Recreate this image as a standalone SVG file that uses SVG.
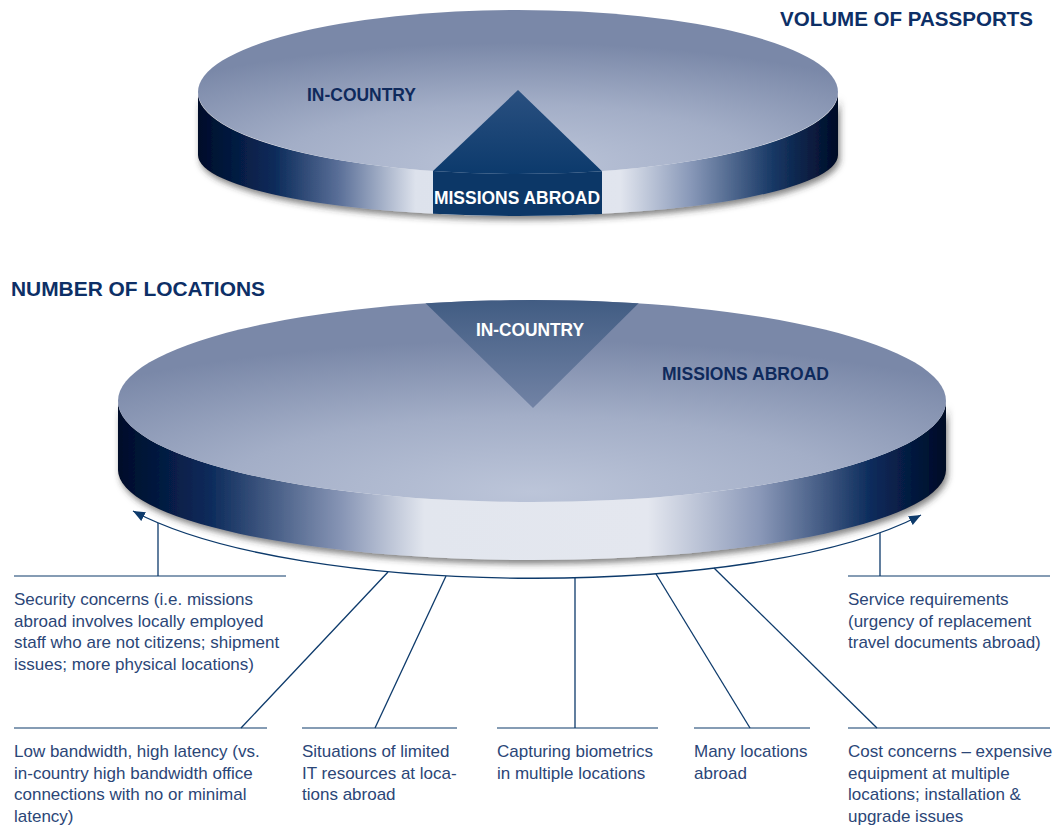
<svg xmlns="http://www.w3.org/2000/svg" width="1064" height="825" viewBox="0 0 1064 825">
<style>
.title{font-family:"Liberation Sans",Arial,sans-serif;font-weight:bold;font-size:21px;fill:#0d2f66}
.lbl{font-family:"Liberation Sans",Arial,sans-serif;font-weight:bold;font-size:19px}
.dark{fill:#0f2a5c}
.white{fill:#ffffff}
.body{font-family:"Liberation Sans",Arial,sans-serif;font-size:17px;fill:#2b4677}
.rule{stroke:#0d3a6b;stroke-width:1.2;fill:none}
.conn{stroke:#0d3a6b;stroke-width:1.3;fill:none}
</style>
<defs>
<radialGradient id="topface" cx="50%" cy="95%" r="75%" fx="50%" fy="95%">
<stop offset="0" stop-color="#bcc5d9"/>
<stop offset="0.5" stop-color="#a3aec7"/>
<stop offset="1" stop-color="#7a88a8"/>
</radialGradient>
<linearGradient id="side1" x1="198" y1="0" x2="838" y2="0" gradientUnits="userSpaceOnUse">
<stop offset="0" stop-color="#000c2a"/>
<stop offset="0.12" stop-color="#0b2b5a"/>
<stop offset="0.22" stop-color="#5a6f98"/>
<stop offset="0.34" stop-color="#dde2ec"/>
<stop offset="0.66" stop-color="#e1e5ee"/>
<stop offset="0.77" stop-color="#8898b8"/>
<stop offset="0.9" stop-color="#163764"/>
<stop offset="1" stop-color="#000a26"/>
</linearGradient>
<linearGradient id="side2" x1="118" y1="0" x2="946" y2="0" gradientUnits="userSpaceOnUse">
<stop offset="0" stop-color="#000c2a"/>
<stop offset="0.11" stop-color="#0b2a5a"/>
<stop offset="0.27" stop-color="#8795b5"/>
<stop offset="0.37" stop-color="#e2e6ee"/>
<stop offset="0.64" stop-color="#e4e7ef"/>
<stop offset="0.775" stop-color="#8a98b8"/>
<stop offset="0.91" stop-color="#0b2b5b"/>
<stop offset="1" stop-color="#000a26"/>
</linearGradient>
<linearGradient id="wedgeTop" x1="0" y1="0" x2="0" y2="1">
<stop offset="0" stop-color="#2a5080"/>
<stop offset="1" stop-color="#0c3a6c"/>
</linearGradient>
<linearGradient id="tri" x1="0" y1="0" x2="0" y2="1">
<stop offset="0" stop-color="#3c587f"/>
<stop offset="1" stop-color="#7283a5"/>
</linearGradient>
<clipPath id="clip2"><ellipse cx="532" cy="401" rx="414" ry="101"/></clipPath>
<filter id="shadow" x="-5%" y="-20%" width="110%" height="150%">
<feDropShadow dx="2" dy="4" stdDeviation="3" flood-color="#333333" flood-opacity="0.6"/>
</filter>
<marker id="arr" viewBox="0 0 12 10" refX="12" refY="5" markerWidth="12" markerHeight="10" markerUnits="userSpaceOnUse" orient="auto-start-reverse">
<path d="M0,0 L12,5 L0,10 z" fill="#0d3a6b"/>
</marker>
</defs>
<rect width="1064" height="825" fill="#ffffff"/>

<text class="title" x="780" y="26" textLength="253" lengthAdjust="spacingAndGlyphs">VOLUME OF PASSPORTS</text>
<text class="title" x="11" y="296" textLength="254" lengthAdjust="spacingAndGlyphs">NUMBER OF LOCATIONS</text>

<g id="pie-passports">
<path d="M198,93 L198,155 A320,61 0 0 0 838,155 L838,93 A320,81 0 0 1 198,93 Z" fill="url(#side1)" filter="url(#shadow)"/>
<ellipse cx="518" cy="92" rx="320" ry="82" fill="url(#topface)"/>
<g id="slice-missions-abroad-volume">
<path d="M433,171.1 L433,213.8 A320,61 0 0 0 602,213.9 L602,171.2 A320,81 0 0 1 433,171.1 Z" fill="#0c3767"/>
<path d="M518,90 L433,171.1 A320,81 0 0 0 602,171.2 Z" fill="url(#wedgeTop)"/>
<text class="lbl white" x="434" y="204" font-size="18" textLength="166" lengthAdjust="spacingAndGlyphs">MISSIONS ABROAD</text>
</g>
<text class="lbl dark" x="307" y="101" textLength="109" lengthAdjust="spacingAndGlyphs">IN-COUNTRY</text>
</g>

<g id="pie-locations">
<path d="M118,401 L118,470 A414,90 0 0 0 946,470 L946,401 A414,101 0 0 1 118,401 Z" fill="url(#side2)" filter="url(#shadow)"/>
<ellipse cx="532" cy="401" rx="414" ry="101" fill="url(#topface)"/>
<g id="slice-in-country-locations">
<polygon points="533,408 411,289 653,289" fill="url(#tri)" clip-path="url(#clip2)"/>
<text class="lbl white" x="476" y="336" textLength="108" lengthAdjust="spacingAndGlyphs">IN-COUNTRY</text>
</g>
<text class="lbl dark" x="662" y="380" textLength="167" lengthAdjust="spacingAndGlyphs">MISSIONS ABROAD</text>
</g>

<g id="connectors">
<path class="conn" d="M133,511 C300,600 760,600 921,515" marker-start="url(#arr)" marker-end="url(#arr)"/>
<line class="conn" x1="158" y1="523" x2="158" y2="576"/>
<line class="conn" x1="880" y1="533" x2="880" y2="576"/>
<line class="conn" x1="388" y1="572" x2="241" y2="728"/>
<line class="conn" x1="446" y1="576" x2="375" y2="728"/>
<line class="conn" x1="575" y1="578" x2="575" y2="728"/>
<line class="conn" x1="656" y1="574" x2="750" y2="728"/>
<line class="conn" x1="714" y1="568" x2="877" y2="728"/>
</g>

<g id="note-security">
<line class="rule" x1="14" y1="576" x2="286" y2="576"/>
<text class="body" x="14" y="605">Security concerns (i.e. missions</text>
<text class="body" x="14" y="626.5">abroad involves locally employed</text>
<text class="body" x="14" y="648">staff who are not citizens; shipment</text>
<text class="body" x="14" y="669.5">issues; more physical locations)</text>
</g>
<g id="note-service">
<line class="rule" x1="848" y1="576" x2="1050" y2="576"/>
<text class="body" x="848" y="605">Service requirements</text>
<text class="body" x="848" y="626.5">(urgency of replacement</text>
<text class="body" x="848" y="648">travel documents abroad)</text>
</g>
<g id="note-bandwidth">
<line class="rule" x1="14" y1="728" x2="267" y2="728"/>
<text class="body" x="14" y="757">Low bandwidth, high latency (vs.</text>
<text class="body" x="14" y="778.5">in-country high bandwidth office</text>
<text class="body" x="14" y="800">connections with no or minimal</text>
<text class="body" x="14" y="821.5">latency)</text>
</g>
<g id="note-it">
<line class="rule" x1="302" y1="728" x2="457" y2="728"/>
<text class="body" x="302" y="757">Situations of limited</text>
<text class="body" x="302" y="778.5">IT resources at loca-</text>
<text class="body" x="302" y="800">tions abroad</text>
</g>
<g id="note-biometrics">
<line class="rule" x1="497" y1="728" x2="658" y2="728"/>
<text class="body" x="497" y="757">Capturing biometrics</text>
<text class="body" x="497" y="778.5">in multiple locations</text>
</g>
<g id="note-many">
<line class="rule" x1="694" y1="728" x2="810" y2="728"/>
<text class="body" x="694" y="757">Many locations</text>
<text class="body" x="694" y="778.5">abroad</text>
</g>
<g id="note-cost">
<line class="rule" x1="848" y1="728" x2="1050" y2="728"/>
<text class="body" x="848" y="757">Cost concerns – expensive</text>
<text class="body" x="848" y="778.5">equipment at multiple</text>
<text class="body" x="848" y="800">locations; installation &amp;</text>
<text class="body" x="848" y="821.5">upgrade issues</text>
</g>
</svg>
